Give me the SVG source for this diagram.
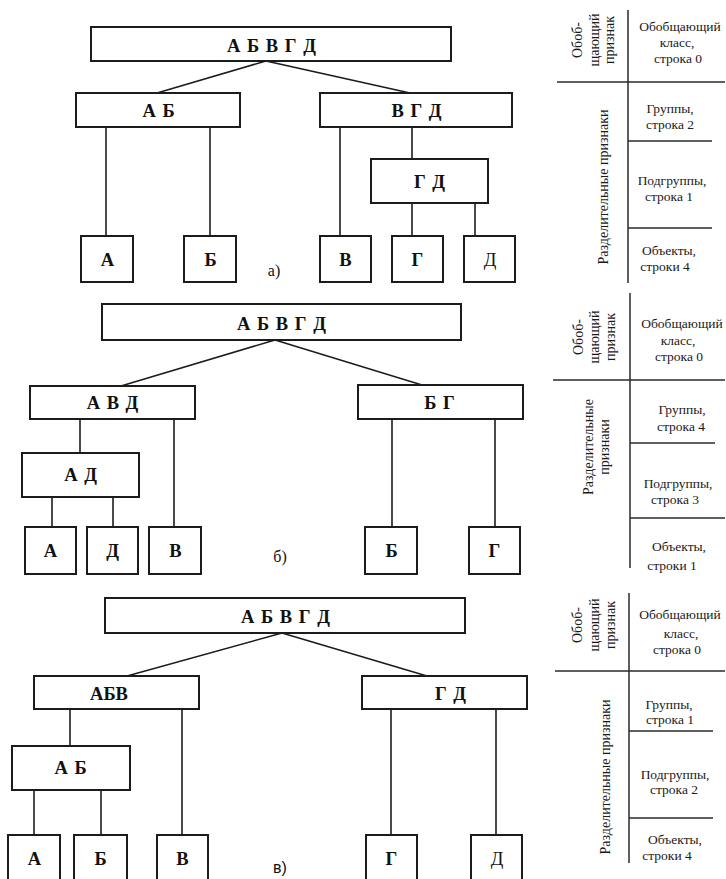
<svg xmlns="http://www.w3.org/2000/svg" width="726" height="879" viewBox="0 0 726 879">
<style>
.bx{fill:#fff;stroke:#1c1c1c;stroke-width:2}
.cn{stroke:#1c1c1c;stroke-width:1.6;fill:none}
.tl{stroke:#2a2a2a;stroke-width:1.5;fill:none}
.lb{font-family:"Liberation Serif","Times New Roman",serif;font-weight:bold;font-size:18.5px;fill:#111;text-anchor:middle;letter-spacing:1px}
.lr{font-family:"Liberation Serif","Times New Roman",serif;font-size:18.5px;fill:#111;text-anchor:middle}
.cap{font-family:"Liberation Serif","Times New Roman",serif;font-size:16px;fill:#111;text-anchor:middle}
.caps{font-family:"Liberation Sans",Arial,sans-serif;font-size:16px;fill:#111;text-anchor:middle}
.tx{font-family:"Liberation Serif","Times New Roman",serif;font-size:13.5px;fill:#1a1a1a;text-anchor:middle}
.rt{font-family:"Liberation Serif","Times New Roman",serif;font-size:14px;fill:#1a1a1a;text-anchor:middle;dominant-baseline:central}
</style>
<rect width="726" height="879" fill="#fff"/>

<g id="connectors">
<line class="cn" x1="266" y1="61" x2="157" y2="93"/>
<line class="cn" x1="266" y1="61" x2="410" y2="93"/>
<line class="cn" x1="106" y1="127" x2="106" y2="236"/>
<line class="cn" x1="210" y1="127" x2="210" y2="236"/>
<line class="cn" x1="340" y1="127" x2="340" y2="236"/>
<line class="cn" x1="412" y1="127" x2="412" y2="159"/>
<line class="cn" x1="412" y1="203" x2="412" y2="236"/>
<line class="cn" x1="475" y1="203" x2="475" y2="236"/>

<line class="cn" x1="275" y1="340" x2="121" y2="386"/>
<line class="cn" x1="275" y1="340" x2="422" y2="385"/>
<line class="cn" x1="80" y1="419" x2="80" y2="453"/>
<line class="cn" x1="174" y1="419" x2="174" y2="527"/>
<line class="cn" x1="52" y1="497" x2="52" y2="527"/>
<line class="cn" x1="113" y1="497" x2="113" y2="527"/>
<line class="cn" x1="392" y1="419" x2="392" y2="527"/>
<line class="cn" x1="495" y1="419" x2="495" y2="527"/>

<line class="cn" x1="282" y1="633" x2="127" y2="676"/>
<line class="cn" x1="282" y1="633" x2="427" y2="676"/>
<line class="cn" x1="70" y1="709" x2="70" y2="746"/>
<line class="cn" x1="182" y1="709" x2="182" y2="835"/>
<line class="cn" x1="34" y1="790" x2="34" y2="835"/>
<line class="cn" x1="101" y1="790" x2="101" y2="835"/>
<line class="cn" x1="391" y1="709" x2="391" y2="835"/>
<line class="cn" x1="496" y1="709" x2="496" y2="835"/>
</g>

<!-- Panel a -->
<g id="a-root"><rect class="bx" x="91" y="27" width="360" height="34"/><text class="lb" x="272" y="52">А Б В Г Д</text></g>
<g id="a-AB"><rect class="bx" x="76" y="93" width="164" height="34"/><text class="lb" x="159" y="117">А Б</text></g>
<g id="a-VGD"><rect class="bx" x="320" y="93" width="192" height="34"/><text class="lb" x="417" y="117">В Г Д</text></g>
<g id="a-GD"><rect class="bx" x="371" y="159" width="117" height="44"/><text class="lb" x="430" y="188">Г Д</text></g>
<g id="a-A"><rect class="bx" x="81" y="236" width="52" height="46"/><text class="lb" x="108" y="266">А</text></g>
<g id="a-B"><rect class="bx" x="184" y="236" width="52" height="46"/><text class="lb" x="211" y="266">Б</text></g>
<g id="a-V"><rect class="bx" x="320" y="236" width="51" height="46"/><text class="lb" x="346" y="266">В</text></g>
<g id="a-G"><rect class="bx" x="392" y="236" width="51" height="46"/><text class="lb" x="418" y="266">Г</text></g>
<g id="a-D"><rect class="bx" x="464" y="236" width="51" height="46"/><text class="lr" x="490" y="266">Д</text></g>
<text class="cap" x="274" y="276">а)</text>

<!-- Panel b -->
<g id="b-root"><rect class="bx" x="102" y="304" width="359" height="36"/><text class="lb" x="282" y="330">А Б В Г Д</text></g>
<g id="b-AVD"><rect class="bx" x="30" y="386" width="165" height="33"/><text class="lb" x="113" y="409">А В Д</text></g>
<g id="b-BG"><rect class="bx" x="358" y="385" width="165" height="34"/><text class="lb" x="440" y="409">Б Г</text></g>
<g id="b-AD"><rect class="bx" x="22" y="453" width="117" height="44"/><text class="lb" x="81" y="481">А Д</text></g>
<g id="b-A"><rect class="bx" x="25" y="527" width="51" height="47"/><text class="lb" x="51" y="557">А</text></g>
<g id="b-D"><rect class="bx" x="87" y="527" width="51" height="47"/><text class="lb" x="113" y="557">Д</text></g>
<g id="b-V"><rect class="bx" x="149" y="527" width="52" height="47"/><text class="lb" x="176" y="557">В</text></g>
<g id="b-B"><rect class="bx" x="365" y="527" width="52" height="47"/><text class="lb" x="392" y="557">Б</text></g>
<g id="b-G"><rect class="bx" x="469" y="527" width="51" height="47"/><text class="lb" x="495" y="557">Г</text></g>
<text class="cap" x="280" y="562">б)</text>

<!-- Panel c -->
<g id="c-root"><rect class="bx" x="105" y="598" width="360" height="35"/><text class="lb" x="286" y="623">А Б В Г Д</text></g>
<g id="c-ABV"><rect class="bx" x="34" y="676" width="165" height="33"/><text class="lb" x="109" y="700" style="letter-spacing:0">АБВ</text></g>
<g id="c-GD"><rect class="bx" x="362" y="676" width="165" height="33"/><text class="lb" x="451" y="700">Г Д</text></g>
<g id="c-AB"><rect class="bx" x="12" y="746" width="118" height="44"/><text class="lb" x="71" y="774">А Б</text></g>
<g id="c-A"><rect class="bx" x="8" y="835" width="52" height="52"/><text class="lb" x="35" y="865">А</text></g>
<g id="c-B"><rect class="bx" x="74" y="835" width="53" height="52"/><text class="lb" x="101" y="865">Б</text></g>
<g id="c-V"><rect class="bx" x="157" y="835" width="51" height="52"/><text class="lb" x="183" y="865">В</text></g>
<g id="c-G"><rect class="bx" x="366" y="835" width="51" height="52"/><text class="lb" x="392" y="865">Г</text></g>
<g id="c-D"><rect class="bx" x="471" y="835" width="51" height="52"/><text class="lr" x="497" y="865">Д</text></g>
<text class="caps" x="280" y="873">в)</text>

<!-- Table a -->
<g id="table-a">
<line class="tl" x1="628" y1="10" x2="628" y2="283"/>
<line class="tl" x1="557" y1="82" x2="725" y2="82"/>
<line class="tl" x1="628" y1="141" x2="712" y2="141"/>
<line class="tl" x1="628" y1="228" x2="712" y2="228"/>
<text class="rt" transform="translate(577,40) rotate(-90)">Обоб-</text>
<text class="rt" transform="translate(594,40) rotate(-90)">щающий</text>
<text class="rt" transform="translate(609,40) rotate(-90)">признак</text>
<text class="rt" transform="translate(603,187) rotate(-90)">Разделительные признаки</text>
<text class="tx" x="680" y="31">Обобщающий</text>
<text class="tx" x="677" y="47">класс,</text>
<text class="tx" x="678" y="63">строка 0</text>
<text class="tx" x="670" y="113">Группы,</text>
<text class="tx" x="670" y="129">строка 2</text>
<text class="tx" x="672" y="185">Подгруппы,</text>
<text class="tx" x="669" y="201">строка 1</text>
<text class="tx" x="669" y="255">Объекты,</text>
<text class="tx" x="665" y="271">строки 4</text>
</g>

<!-- Table b -->
<g id="table-b">
<line class="tl" x1="630" y1="293" x2="630" y2="568"/>
<line class="tl" x1="553" y1="380" x2="725" y2="380"/>
<line class="tl" x1="630" y1="443" x2="715" y2="443"/>
<line class="tl" x1="630" y1="518" x2="725" y2="518"/>
<text class="rt" transform="translate(578,337) rotate(-90)">Обоб-</text>
<text class="rt" transform="translate(594,337) rotate(-90)">щающий</text>
<text class="rt" transform="translate(610,337) rotate(-90)">признак</text>
<text class="rt" transform="translate(588,447) rotate(-90)">Разделительные</text>
<text class="rt" transform="translate(604,447) rotate(-90)">признаки</text>
<text class="tx" x="682" y="328">Обобщающий</text>
<text class="tx" x="678" y="345">класс,</text>
<text class="tx" x="679" y="361">строка 0</text>
<text class="tx" x="682" y="414">Группы,</text>
<text class="tx" x="681" y="431">строка 4</text>
<text class="tx" x="678" y="488">Подгруппы,</text>
<text class="tx" x="675" y="504">строка 3</text>
<text class="tx" x="679" y="551">Объекты,</text>
<text class="tx" x="672" y="570">строки 1</text>
</g>

<!-- Table c -->
<g id="table-c">
<line class="tl" x1="629" y1="593" x2="629" y2="863"/>
<line class="tl" x1="555" y1="671" x2="725" y2="671"/>
<line class="tl" x1="629" y1="731" x2="713" y2="731"/>
<line class="tl" x1="629" y1="818" x2="713" y2="818"/>
<text class="rt" transform="translate(577,625) rotate(-90)">Обоб-</text>
<text class="rt" transform="translate(594,625) rotate(-90)">щающий</text>
<text class="rt" transform="translate(610,625) rotate(-90)">признак</text>
<text class="rt" transform="translate(605,777) rotate(-90)">Разделительные признаки</text>
<text class="tx" x="680" y="619">Обобщающий</text>
<text class="tx" x="681" y="638">класс,</text>
<text class="tx" x="677" y="654">строка 0</text>
<text class="tx" x="669" y="709">Группы,</text>
<text class="tx" x="670" y="724">строка 1</text>
<text class="tx" x="675" y="779">Подгруппы,</text>
<text class="tx" x="674" y="794">строка 2</text>
<text class="tx" x="675" y="844">Объекты,</text>
<text class="tx" x="667" y="860">строки 4</text>
</g>
</svg>
